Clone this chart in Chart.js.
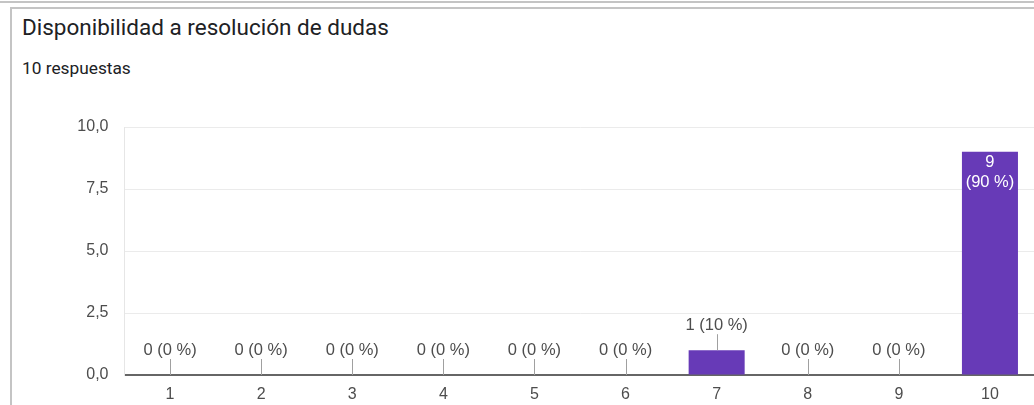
<!DOCTYPE html>
<html>
<head>
<meta charset="utf-8">
<script src="https://cdn.jsdelivr.net/npm/chart.js@4/dist/chart.umd.min.js"></script>
<style>
  html, body { margin: 0; padding: 0; background: #fff; }
  body { width: 1034px; height: 405px; overflow: hidden; position: relative; font-family: Roboto, Arial, sans-serif; }
  #topline { position: absolute; left: 0; top: 1px; width: 1034px; height: 0; border-top: 2px solid #c4c4c4; }
  #card { position: absolute; left: 10px; top: 7px; width: 1040px; height: 420px; border-top: 2px solid #c4c4c4; border-left: 2px solid #c4c4c4; }
  #title { position: absolute; left: 22px; top: 14px; font-size: 22.5px; color: #202124; }
  #count { position: absolute; left: 22px; top: 58px; font-size: 17.3px; color: #202124; }
  #chart-box { position: absolute; left: 0; top: 100px; width: 1050px; height: 305px; }
</style>
</head>
<body>
<div id="topline"></div>
<div id="card"></div>
<div id="title">Disponibilidad a resolución de dudas</div>
<div id="count">10 respuestas</div>
<div id="chart-box"><canvas id="chart"></canvas></div>
<script>
var categories = ['1', '2', '3', '4', '5', '6', '7', '8', '9', '10'];
var counts = [0, 0, 0, 0, 0, 0, 1, 0, 0, 9];
var percents = [0, 0, 0, 0, 0, 0, 10, 0, 0, 90];
var yTicks = [0, 2.5, 5, 7.5, 10];

var purple = '#673ab7';
var labelColour = '#4d4d4d';
var labelFont = 'Arial, "Liberation Sans", sans-serif';

// labels above small bars with a little leader line, inside for tall ones
var barLabels = {
  id: 'barLabels',
  afterDatasetsDraw: function(chart){
    var ctx = chart.ctx;
    var meta = chart.getDatasetMeta(0);
    ctx.save();
    ctx.font = '16.5px ' + labelFont;
    ctx.textAlign = 'center';
    ctx.textBaseline = 'middle';
    meta.data.forEach(function(bar, i){
      var x = bar.x;
      var top = bar.y;
      var h = bar.base - bar.y;
      if (h > 50){
        ctx.fillStyle = '#ffffff';
        ctx.fillText(String(counts[i]), x, top + 11);
        ctx.fillText('(' + percents[i] + ' %)', x, top + 31);
      }else{
        ctx.strokeStyle = '#a0a0a0';
        ctx.lineWidth = 1;
        ctx.beginPath();
        ctx.moveTo(Math.round(x) + 0.5, top - 16);
        ctx.lineTo(Math.round(x) + 0.5, top);
        ctx.stroke();
        ctx.fillStyle = labelColour;
        ctx.fillText(counts[i] + ' (' + percents[i] + ' %)', x, top - 24.5);
      }
    });
    ctx.restore();
  }
};

new Chart(document.getElementById('chart'), {
  type: 'bar',
  data: {
    labels: categories,
    datasets: [{
      data: counts,
      backgroundColor: purple,
      borderColor: purple,
      borderWidth: 0,
      barPercentage: 0.615,
      categoryPercentage: 1.0
    }]
  },
  options: {
    responsive: true,
    maintainAspectRatio: false,
    animation: false,
    layout: {padding: {top: 27, right: 14.5, bottom: 0, left: 0}},
    plugins: {
      legend: {display: false},
      tooltip: {enabled: false}
    },
    scales: {
      x: {
        afterFit: function(scale){ scale.height = 30; },
        grid: {display: false, drawTicks: false},
        border: {color: '#666666', width: 2},
        ticks: {
          color: labelColour,
          padding: 10,
          font: {family: labelFont, size: 16}
        }
      },
      y: {
        min: 0,
        max: 10,
        afterFit: function(scale){ scale.width = 124.5; },
        afterBuildTicks: function(scale){
          scale.ticks = yTicks.map(function(v){ return {value: v}; });
        },
        grid: {color: '#ebebeb', lineWidth: 1, drawTicks: false},
        border: {color: '#e6e6e6', width: 1},
        ticks: {
          color: labelColour,
          padding: 16,
          font: {family: labelFont, size: 16},
          callback: function(v){ return v.toFixed(1).replace('.', ','); }
        }
      }
    }
  },
  plugins: [barLabels]
});
</script>
</body>
</html>
